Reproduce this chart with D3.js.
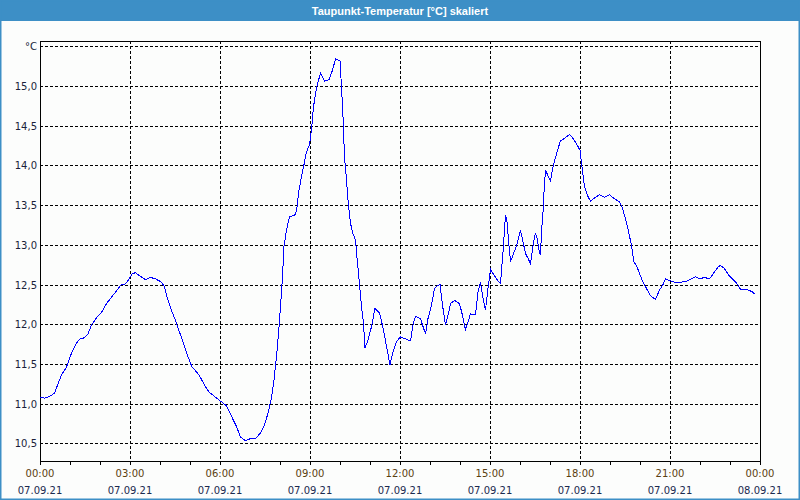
<!DOCTYPE html>
<html><head><meta charset="utf-8">
<script src="https://cdn.jsdelivr.net/npm/d3@7"></script>
<style>html,body{margin:0;padding:0;background:#fff;}svg{display:block;}</style>
</head><body>
<script>
const title = "Taupunkt-Temperatur [°C] skaliert";
const unitLabel = "°C";
// minutes after 07.09.21 00:00
const times = [0,9,19,29,36,43,53,59,66,73,79,89,96,103,113,123,133,143,153,161,171,177,184,191,199,211,221,231,243,249,256,263,271,279,287,296,304,313,321,329,339,349,359,
366,373,383,393,401,411,421,431,441,449,456,463,468,473,477,481,485,488,493,499,511,514,518,523,528,533,539,543,547,553,556,561,569,578,585,591,600,603,606,609,613,616,621,626,631,635,639,643,647,650,656,663,670,679,687,693,700,706,713,
721,729,741,746,751,761,766,771,776,783,789,794,800,805,811,816,821,829,839,845,851,856,861,871,876,881,885,891,896,901,906,913,921,926,931,934,938,941,946,953,961,966,971,976,981,986,991,995,998,1001,1003,1006,1008,1011,1016,1021,1026,1031,1036,1041,1049,1059,1066,1075,
1080,1084,1089,1095,1101,1109,1119,1129,1139,1149,1159,1164,1169,1176,1183,1188,1193,1199,1206,1213,1221,1231,1239,1246,1251,1259,1269,1283,1293,1303,1311,1319,1329,1339,1349,1356,1361,1369,1377,1385,1393,1401,1409,1417,1424,1429];
const values = [11.08,11.07,11.09,11.13,11.25,11.36,11.46,11.57,11.68,11.76,11.81,11.83,11.88,11.99,12.08,12.15,12.26,12.34,12.42,12.49,12.51,12.56,12.63,12.65,12.61,12.56,12.59,12.57,12.53,12.47,12.30,12.17,12.05,11.90,11.76,11.59,11.46,11.40,11.33,11.23,11.14,11.09,11.04,
11.01,10.97,10.84,10.71,10.58,10.53,10.56,10.56,10.63,10.73,10.88,11.07,11.30,11.59,11.88,12.22,12.60,12.98,13.19,13.35,13.38,13.48,13.69,13.86,14.01,14.17,14.26,14.45,14.74,14.97,15.05,15.16,15.06,15.08,15.20,15.34,15.32,14.99,14.61,14.11,13.82,13.56,13.27,13.14,13.06,12.77,12.51,12.22,12.01,11.70,11.80,11.97,12.20,12.14,11.93,11.72,11.49,11.65,11.78,
11.84,11.82,11.79,11.99,12.10,12.07,11.97,11.88,12.07,12.24,12.45,12.48,12.50,12.24,11.99,12.11,12.26,12.30,12.26,12.11,11.93,12.03,12.13,12.12,12.41,12.53,12.36,12.18,12.45,12.69,12.64,12.57,12.51,12.91,13.38,13.29,12.99,12.79,12.87,12.99,13.18,13.04,12.89,12.83,12.76,12.99,13.15,13.06,12.93,12.87,13.16,13.41,13.66,13.94,13.87,13.81,13.98,14.10,14.21,14.31,14.34,14.39,14.34,14.25,
14.19,13.98,13.73,13.62,13.55,13.59,13.63,13.60,13.63,13.58,13.54,13.48,13.37,13.20,12.99,12.78,12.74,12.64,12.53,12.45,12.36,12.31,12.43,12.50,12.57,12.55,12.53,12.53,12.54,12.57,12.60,12.57,12.59,12.57,12.66,12.72,12.74,12.70,12.62,12.57,12.52,12.44,12.44,12.43,12.41,12.38];
const yTicks = [10.5,11.0,11.5,12.0,12.5,13.0,13.5,14.0,14.5,15.0,15.5];
const xTicks = [0,180,360,540,720,900,1080,1260,1440];
const xTimeLabels = ["00:00","03:00","06:00","09:00","12:00","15:00","18:00","21:00","00:00"];
const xDateLabels = ["07.09.21","07.09.21","07.09.21","07.09.21","07.09.21","07.09.21","07.09.21","07.09.21","08.09.21"];
const hourTicks = d3.range(0, 1441, 60);

const W = 800, H = 500;
const L = 40, R = 760, T = 41, B = 461;
const svg = d3.select("body").append("svg").attr("width", W).attr("height", H);
svg.append("rect").attr("width", W).attr("height", H).attr("fill", "#fcfdfc");
// window frame
svg.append("rect").attr("x", 0).attr("y", 0).attr("width", W).attr("height", 21).attr("fill", "#3d8fc6");
svg.append("rect").attr("x", 0.5).attr("y", 0.5).attr("width", W - 1).attr("height", H - 1).attr("fill", "none").attr("stroke", "#3d8fc6").attr("stroke-width", 2);
svg.append("text").attr("x", W / 2).attr("y", 14.5).attr("text-anchor", "middle")
  .attr("font-family", "Liberation Sans, Arial, sans-serif").attr("font-size", 11).attr("font-weight", "bold")
  .attr("fill", "#ffffff").text(title);

const x = d3.scaleLinear().domain([0, 1440]).range([L, R]);
const y = d3.scaleLinear().domain([10.277, 15.567]).range([B, T]);
const fmt = v => v.toFixed(1).replace(".", ",");
const crisp = v => Math.round(v) + 0.5;

// grid
const g = svg.append("g").attr("stroke", "#000").attr("stroke-dasharray", "3,2").attr("shape-rendering", "crispEdges");
g.selectAll(".h").data(yTicks).enter().append("line")
  .attr("x1", L).attr("x2", R).attr("y1", d => crisp(y(d))).attr("y2", d => crisp(y(d)));
g.selectAll(".v").data(xTicks.slice(1, -1)).enter().append("line")
  .attr("y1", T).attr("y2", B).attr("x1", d => crisp(x(d))).attr("x2", d => crisp(x(d)));

// frame
svg.append("rect").attr("x", L + 0.5).attr("y", T + 0.5).attr("width", R - L).attr("height", B - T)
  .attr("fill", "none").attr("stroke", "#000").attr("shape-rendering", "crispEdges");

// hour ticks
svg.append("g").selectAll("line").data(hourTicks).enter().append("line")
  .attr("x1", d => crisp(x(d))).attr("x2", d => crisp(x(d))).attr("y1", B).attr("y2", B + 4)
  .attr("stroke", "#000").attr("shape-rendering", "crispEdges");

// y labels
svg.append("g").selectAll("text").data(yTicks).enter().append("text")
  .attr("x", L - 3).attr("y", d => y(d) + 4).attr("text-anchor", "end")
  .attr("font-family", "DejaVu Sans, Verdana, sans-serif").attr("font-size", 10).attr("fill", "#1a1f3a")
  .text(d => d === 15.5 ? unitLabel : fmt(d));

// x labels
const xl = svg.append("g").attr("font-family", "DejaVu Sans, Verdana, sans-serif").attr("font-size", 10).attr("text-anchor", "middle");
xl.selectAll(".t").data(xTicks).enter().append("text")
  .attr("x", d => x(d)).attr("y", 477).attr("fill", "#5a4010").text((d, i) => xTimeLabels[i]);
xl.selectAll(".d").data(xTicks).enter().append("text")
  .attr("x", d => x(d)).attr("y", 494).attr("fill", "#1a2a50").text((d, i) => xDateLabels[i]);

// series
const line = d3.line().x(d => x(d[0])).y(d => y(d[1]));
svg.append("path").datum(times.map((t, i) => [t, values[i]]))
  .attr("d", line).attr("fill", "none").attr("stroke", "#0000ff").attr("stroke-width", 1)
  .attr("shape-rendering", "crispEdges");
</script>
</body></html>
